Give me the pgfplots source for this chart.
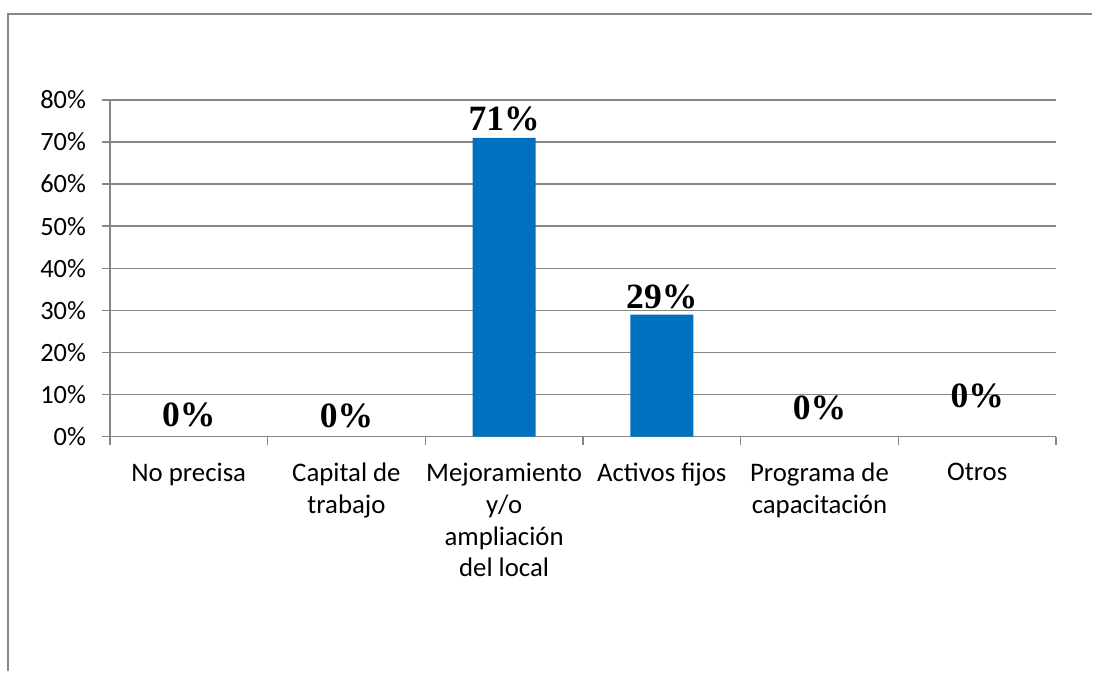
\documentclass[border=0pt]{standalone}
\usepackage{fontspec}
\setmainfont{Carlito}
\newfontfamily\tnr{Liberation Serif}[BoldFont={Liberation Serif Bold}]
\usepackage{pgfplots}
\pgfplotsset{compat=1.18}
\definecolor{barblue}{HTML}{0070C0}
\definecolor{gridgray}{HTML}{878787}
\begin{document}
\begin{tikzpicture}
\path (0,0) rectangle (546.5pt,-336pt);
\draw[gridgray, line width=1pt] (4pt,-336pt) -- (4pt,-7pt) -- (546.5pt,-7pt);
\begin{axis}[
  at={(55pt,-218.5pt)}, anchor=south west,
  scale only axis, width=473.5pt, height=168.5pt,
  xmin=-0.5, xmax=5.5, ymin=0, ymax=80,
  axis x line*=bottom, axis y line*=left,
  axis line style={gridgray, line width=0.75pt},
  ytick={0,10,...,80},
  yticklabels={0\%,10\%,20\%,30\%,40\%,50\%,60\%,70\%,80\%},
  ymajorgrids, grid style={gridgray, line width=0.75pt},
  xtick={0,...,5},
  xticklabels={No precisa, Capital de\\trabajo, Mejoramiento\\y/o\\ampliación\\del local, Activos fijos, Programa de\\capacitación, Otros},
  minor xtick={-0.5,0.5,...,5.5},
  x tick label style={align=center, font=\fontsize{13.4}{16}\selectfont, yshift=-5.5pt},
  y tick label style={font=\fontsize{13.2}{16}\selectfont, xshift=-4.5pt},
  tick align=outside,
  major tick length=4pt,
  minor tick length=4pt,
  xtick style={draw=none},
  minor x tick style={draw=gridgray, line width=0.75pt},
  ytick style={gridgray, line width=0.75pt},
  tick pos=left,
  clip=false,
]
\addplot[ybar, bar width=31.5pt, fill=barblue, draw=none] coordinates {(0,0) (1,0) (2,71) (3,29) (4,0) (5,0)};
\node[font=\tnr\bfseries\fontsize{17.8}{20}\selectfont] at (axis cs:0,5.2) {0\%};
\node[font=\tnr\bfseries\fontsize{17.8}{20}\selectfont] at (axis cs:1,5.0) {0\%};
\node[font=\tnr\bfseries\fontsize{17.8}{20}\selectfont] at (axis cs:2,75.6) {71\%};
\node[font=\tnr\bfseries\fontsize{17.8}{20}\selectfont] at (axis cs:3,33.2) {29\%};
\node[font=\tnr\bfseries\fontsize{17.8}{20}\selectfont] at (axis cs:4,6.9) {0\%};
\node[font=\tnr\bfseries\fontsize{17.8}{20}\selectfont] at (axis cs:5,9.7) {0\%};
\end{axis}
\end{tikzpicture}
\end{document}
